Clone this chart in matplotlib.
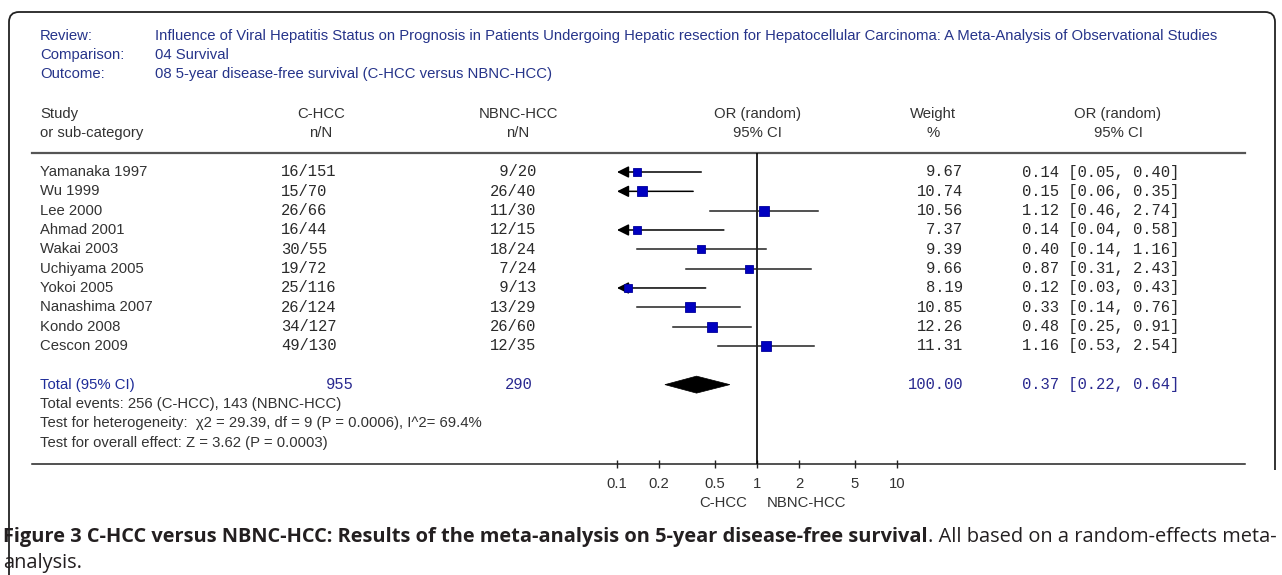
import numpy as np
import matplotlib.pyplot as plt
from matplotlib.patches import PathPatch, Polygon
from matplotlib.path import Path

# Data
studies = ["Yamanaka 1997", "Wu 1999", "Lee 2000", "Ahmad 2001", "Wakai 2003",
           "Uchiyama 2005", "Yokoi 2005", "Nanashima 2007", "Kondo 2008", "Cescon 2009"]
c_events = [16, 15, 26, 16, 30, 19, 25, 26, 34, 49]
c_total = [151, 70, 66, 44, 55, 72, 116, 124, 127, 130]
n_events = [9, 26, 11, 12, 18, 7, 9, 13, 26, 12]
n_total = [20, 40, 30, 15, 24, 24, 13, 29, 60, 35]
weights = [9.67, 10.74, 10.56, 7.37, 9.39, 9.66, 8.19, 10.85, 12.26, 11.31]
odds = [0.14, 0.15, 1.12, 0.14, 0.40, 0.87, 0.12, 0.33, 0.48, 1.16]
ci_low = [0.05, 0.06, 0.46, 0.04, 0.14, 0.31, 0.03, 0.14, 0.25, 0.53]
ci_high = [0.40, 0.35, 2.74, 0.58, 1.16, 2.43, 0.43, 0.76, 0.91, 2.54]
total_c, total_n = 955, 290
pooled = (0.37, 0.22, 0.64)
tick_vals = [0.1, 0.2, 0.5, 1, 2, 5, 10]
tick_labels = ["0.1", "0.2", "0.5", "1", "2", "5", "10"]

W, H = 1282, 575
NAVY = "#26348a"
TXT = "#333333"
NUM = "#2a2a2a"
BLUE_T = "#2a2a90"
SANS = "Liberation Sans"
MONO = "Liberation Mono"
FS = 10.7
MFS = 11.2
CFS = 14.45

fig = plt.figure(figsize=(W / 100, H / 100), dpi=100)
ov = fig.add_axes([0, 0, 1, 1])
ov.set_xlim(0, W)
ov.set_ylim(H, 0)
ov.axis("off")

# frame: open at the bottom, rounded top corners
fl, fr, ft, r = 9, 1275, 12, 10
verts = [(fr, 470), (fr, ft + r), (fr, ft), (fr - r, ft), (fl + r, ft), (fl, ft), (fl, ft + r), (fl, H + 5)]
codes = [Path.MOVETO, Path.LINETO, Path.CURVE3, Path.CURVE3, Path.LINETO, Path.CURVE3, Path.CURVE3, Path.LINETO]
ov.add_patch(PathPatch(Path(verts, codes), fc="none", ec="#222222", lw=1.3))

# header block
for y, lab, val in [(36, "Review:", "Influence of Viral Hepatitis Status on Prognosis in Patients Undergoing Hepatic resection for Hepatocellular Carcinoma: A Meta-Analysis of Observational Studies"),
                    (55, "Comparison:", "04 Survival"),
                    (74, "Outcome:", "08 5-year disease-free survival (C-HCC versus NBNC-HCC)")]:
    ov.text(40, y, lab, color=NAVY, fontsize=FS, family=SANS, va="center")
    ov.text(155, y, val, color=NAVY, fontsize=FS, family=SANS, va="center")

# column headers
ov.text(40, 114, "Study", color=TXT, fontsize=FS, family=SANS, va="center")
ov.text(40, 133, "or sub-category", color=TXT, fontsize=FS, family=SANS, va="center")
for x, a, b in [(321, "C-HCC", "n/N"), (518, "NBNC-HCC", "n/N"), (757, "OR (random)", "95% CI"),
                (933, "Weight", "%"), (1118, "OR (random)", "95% CI")]:
    ov.text(x, 114, a, color=TXT, fontsize=FS, family=SANS, va="center", ha="center")
    ov.text(x, 133, b, color=TXT, fontsize=FS, family=SANS, va="center", ha="center")

ov.plot([32, 1245], [153, 153], color="#555555", lw=1.6)
ov.plot([32, 1245], [464, 464], color="#222222", lw=1.1)

row_y = [172 + 19.33 * i for i in range(len(studies))]
total_y = 172 + 19.33 * 11

for i, y in enumerate(row_y):
    ov.text(40, y, studies[i], color=TXT, fontsize=FS, family=SANS, va="center")
    ov.text(281, y, f"{c_events[i]:>2}/{c_total[i]}", color=NUM, fontsize=MFS, family=MONO, va="center")
    ov.text(490, y, f"{n_events[i]:>2}/{n_total[i]}", color=NUM, fontsize=MFS, family=MONO, va="center")
    ov.text(963, y, f"{weights[i]:.2f}", color=NUM, fontsize=MFS, family=MONO, va="center", ha="right")
    ov.text(1022, y, f"{odds[i]:.2f} [{ci_low[i]:.2f}, {ci_high[i]:.2f}]", color=NUM,
            fontsize=MFS, family=MONO, va="center")

ov.text(40, total_y, "Total (95% CI)", color="#1f2d99", fontsize=FS, family=SANS, va="center")
ov.text(326, total_y, f"{total_c}", color=BLUE_T, fontsize=MFS, family=MONO, va="center")
ov.text(505, total_y, f"{total_n}", color=BLUE_T, fontsize=MFS, family=MONO, va="center")
ov.text(963, total_y, f"{sum(weights):.2f}", color=BLUE_T, fontsize=MFS, family=MONO, va="center", ha="right")
ov.text(1022, total_y, f"{pooled[0]:.2f} [{pooled[1]:.2f}, {pooled[2]:.2f}]", color=BLUE_T,
        fontsize=MFS, family=MONO, va="center")

foot = ["Total events: 256 (C-HCC), 143 (NBNC-HCC)",
        "Test for heterogeneity:  \u03c72 = 29.39, df = 9 (P = 0.0006), I^2= 69.4%",
        "Test for overall effect: Z = 3.62 (P = 0.0003)"]
for k, s in enumerate(foot):
    ov.text(40, total_y + 19.33 * (k + 1), s, color=TXT, fontsize=FS, family=SANS, va="center")

ov.text(723, 503, "C-HCC", color=TXT, fontsize=FS, family=SANS, va="center", ha="center")
ov.text(806, 503, "NBNC-HCC", color=TXT, fontsize=FS, family=SANS, va="center", ha="center")

# caption
cap = ov.text(3, 537, "Figure 3 C-HCC versus NBNC-HCC: Results of the meta-analysis on 5-year disease-free survival",
              fontsize=CFS, family="Open Sans", weight="bold", color="#231f20", va="center")
ov.annotate(". All based on a random-effects meta-", xy=(1, 0.5), xycoords=cap, va="center",
            fontsize=CFS, family="Open Sans", color="#231f20")
ov.text(3, 563, "analysis.", fontsize=CFS, family="Open Sans", color="#231f20", va="center")

# forest panel: x from 0.1 to 10 on log scale, y in pixel rows
x0, x1 = 617, 897
ytop, ybot = 153, 464
ax = fig.add_axes([x0 / W, 1 - ybot / H, (x1 - x0) / W, (ybot - ytop) / H])
ax.patch.set_visible(False)
ax.set_xscale("log")
ax.set_xlim(0.1, 10)
ax.set_ylim(ybot, ytop)
for s in ax.spines.values():
    s.set_visible(False)
ax.set_yticks([])
ax.set_xticks(tick_vals, tick_labels)
ax.xaxis.set_minor_locator(plt.NullLocator())
ax.tick_params(axis="x", direction="inout", length=6, width=1, color="#222222",
               labelsize=FS, labelcolor=TXT, pad=6)
for lab in ax.get_xticklabels():
    lab.set_family(SANS)

ax.axvline(1, color="black", lw=1.2)

for i, y in enumerate(row_y):
    lo = ci_low[i]
    if lo < tick_vals[0]:
        ax.annotate("", xy=(tick_vals[0], y), xytext=(ci_high[i], y), annotation_clip=False,
                    arrowprops=dict(arrowstyle="-|>,head_length=0.7,head_width=0.35", color="black",
                                    lw=1.1, shrinkA=0, shrinkB=0, mutation_scale=10))
    else:
        ax.plot([lo, ci_high[i]], [y, y], color="#222222", lw=1.1)
    ax.plot(odds[i], y, marker="s", ms=2.8 * np.sqrt(weights[i]) * 0.72, color="#0000c0",
            mec="#00009a", mew=0.6, zorder=3)

est, lo, hi = pooled
ax.add_patch(Polygon([(lo, total_y), (est, total_y - 8.5), (hi, total_y), (est, total_y + 8.5)],
                     closed=True, fc="black", ec="black", lw=0.5))

fig.savefig("out.png", dpi=100)
